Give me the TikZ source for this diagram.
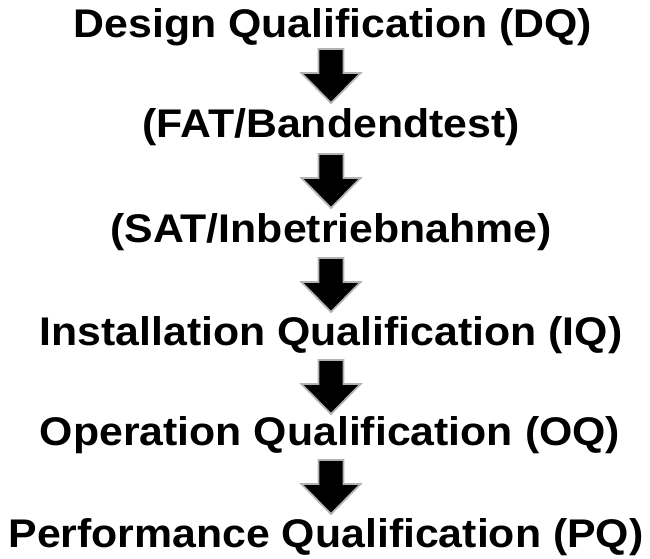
\documentclass[tikz,border=0pt]{standalone}
\usepackage{fontspec}
\setmainfont{Liberation Sans}[FakeStretch=1.07]
\usetikzlibrary{calc}
\begin{document}
\begin{tikzpicture}[x=1pt,y=-1pt,
  lbl/.style={anchor=base,inner sep=0pt,font=\fontsize{40}{48}\selectfont\bfseries},
  darrow/.style={fill=black,draw=gray!60,line width=1.8pt,line join=miter}]
\useasboundingbox (0,0) rectangle (650,559);
\node[lbl] (dq) at (333,38) {Design Qualification (DQ)};
\node[lbl] (fat) at (331,138) {(FAT/Bandendtest)};
\node[lbl] (sat) at (331,242) {(SAT/Inbetriebnahme)};
\node[lbl] (iq) at (331,345) {Installation Qualification (IQ)};
\node[lbl] (oq) at (330,445) {Operation Qualification (OQ)};
\node[lbl] (pq) at (326,547) {Performance Qualification (PQ)};
\foreach \t/\n in {49/a1,154/a2,258/a3,360/a4,460/a5}{
  \coordinate (\n) at (331,\t);
  \draw[darrow] ($(\n)+(-12.5,0)$) -- ($(\n)+(12.5,0)$) -- ($(\n)+(12.5,24)$)
    -- ($(\n)+(29.5,24)$) -- ($(\n)+(0,54)$) -- ($(\n)+(-29.5,24)$)
    -- ($(\n)+(-12.5,24)$) -- cycle;
}
\end{tikzpicture}
\end{document}
